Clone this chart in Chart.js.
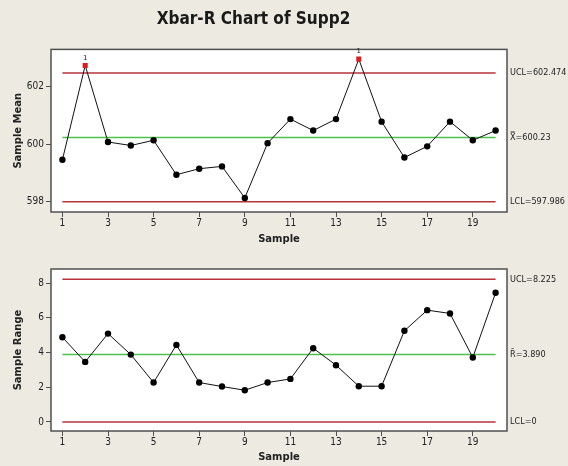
<!DOCTYPE html>
<html>
<head>
<meta charset="utf-8">
<script src="https://cdn.jsdelivr.net/npm/chart.js@4/dist/chart.umd.min.js"></script>
<style>
  html, body { margin: 0; padding: 0; background: #EDEAE2; }
  #wrap { position: relative; width: 568px; height: 466px; overflow: hidden; }
  canvas { position: absolute; left: 0; }
  #meanChart { top: 0; }
  #rangeChart { top: 250px; }
</style>
</head>
<body>
<div id="wrap">
  <canvas id="meanChart" width="568" height="250"></canvas>
  <canvas id="rangeChart" width="568" height="216"></canvas>
</div>
<script>
// data
var samples = [1, 2, 3, 4, 5, 6, 7, 8, 9, 10, 11, 12, 13, 14, 15, 16, 17, 18, 19, 20];
var sampleMeans = [599.45, 602.74, 600.07, 599.95, 600.13, 598.93, 599.14, 599.22, 598.12, 600.03,
                   600.87, 600.47, 600.87, 602.96, 600.78, 599.53, 599.92, 600.78, 600.13, 600.47];
var sampleRanges = [4.88, 3.46, 5.09, 3.88, 2.27, 4.44, 2.27, 2.04, 1.83, 2.27,
                    2.48, 4.25, 3.27, 2.06, 2.06, 5.25, 6.44, 6.25, 3.71, 7.44];
var failedTest1 = [2, 14];   // samples flagged "1" on the Xbar chart

var meanUCL = 602.474, meanCenter = 600.23, meanLCL = 597.986;
var rangeUCL = 8.225, rangeCenter = 3.890, rangeLCL = 0;

var sampleTicks = [1, 3, 5, 7, 9, 11, 13, 15, 17, 19];
var meanTicks = [598, 600, 602];
var rangeTicks = [0, 2, 4, 6, 8];

var meanLabels = ['UCL=602.474', 'X\u033F=600.23', 'LCL=597.986'];
var rangeLabels = ['UCL=8.225', 'R\u0304=3.890', 'LCL=0'];

var RED = '#B8323C', GREEN = '#4CC24C', BOX = '#505050';
var NARROW = '"DejaVu Sans Condensed", "DejaVu Sans", sans-serif';
var tickFont = { family: NARROW, size: 10 };
var titleFont = { family: '"DejaVu Sans", sans-serif', size: 10, weight: 'bold' };

function limitLine(v, color) {
    return {
        data: [{ x: samples[0], y: v }, { x: samples[samples.length - 1], y: v }],
        borderColor: color, borderWidth: 1.5, pointRadius: 0, pointHoverRadius: 0
    };
}

var boxPlugin = {
    id: 'box',
    beforeDatasetsDraw: function(chart) {
        var a = chart.chartArea, c = chart.ctx;
        c.save();
        c.fillStyle = '#ffffff';
        c.fillRect(a.left, a.top, a.right - a.left, a.bottom - a.top);
        c.restore();
    },
    afterDatasetsDraw: function(chart) {
        var a = chart.chartArea, c = chart.ctx;
        var o = chart.options.plugins.box;
        c.save();
        c.strokeStyle = BOX;
        c.lineWidth = 1.5;
        c.strokeRect(a.left, a.top, a.right - a.left, a.bottom - a.top);
        // limit labels on the right
        c.fillStyle = '#222';
        c.font = '9px ' + NARROW;
        c.textBaseline = 'middle';
        c.textAlign = 'left';
        var y = chart.scales.y;
        o.values.forEach(function(v, i) {
            c.fillText(o.labels[i], a.right + 3, y.getPixelForValue(v));
        });
        // test 1 flags
        if (o.flags.length) {
            var meta = chart.getDatasetMeta(0);
            c.font = '7px "DejaVu Sans"';
            c.textAlign = 'center';
            c.textBaseline = 'bottom';
            meta.data.forEach(function(pt, i) {
                if (o.flags.indexOf(samples[i]) >= 0) c.fillText('1', pt.x, pt.y - 4);
            });
        }
        c.restore();
    }
};

function makeChart(id, values, ucl, center, lcl, yTicks, yMin, yMax, yTitle, labels, flags, layout) {
    var points = samples.map(function(s, i) { return { x: s, y: values[i] }; });
    var isFlag = function(ctx) { return flags.indexOf(samples[ctx.dataIndex]) >= 0; };
    return new Chart(document.getElementById(id), {
        type: 'line',
        data: {
            datasets: [
                {
                    data: points,
                    borderColor: '#111', borderWidth: 1,
                    pointStyle: function(ctx) { return isFlag(ctx) ? 'rect' : 'circle'; },
                    pointRadius: function(ctx) { return isFlag(ctx) ? 3.6 : 3.2; },
                    pointBackgroundColor: function(ctx) { return isFlag(ctx) ? '#D81E1E' : '#000'; },
                    pointBorderColor: function(ctx) { return isFlag(ctx) ? '#D81E1E' : '#000'; },
                    pointBorderWidth: 0
                },
                limitLine(center, GREEN),
                limitLine(ucl, RED),
                limitLine(lcl, RED)
            ]
        },
        options: {
            responsive: false,
            animation: false,
            layout: { padding: { top: layout.top, right: 61, bottom: 0, left: 0 } },
            plugins: {
                legend: { display: false },
                tooltip: { enabled: false },
                title: layout.title ? {
                    display: true, text: layout.title, color: '#1a1a1a',
                    font: { family: NARROW, size: 17, weight: 'bold' },
                    padding: { top: 9, bottom: 20 }
                } : { display: false },
                box: { values: [ucl, center, lcl], labels: labels, flags: flags }
            },
            scales: {
                x: {
                    type: 'linear', min: 0.5, max: 20.5,
                    afterBuildTicks: function(ax) { ax.ticks = sampleTicks.map(function(v) { return { value: v }; }); },
                    afterFit: function(ax) { ax.height = layout.xHeight; },
                    ticks: { font: tickFont, color: '#222', padding: 0, maxRotation: 0, autoSkip: false },
                    grid: { drawOnChartArea: false, drawTicks: true, tickLength: 5, color: BOX, lineWidth: 1 },
                    border: { display: false },
                    title: { display: true, text: 'Sample', font: titleFont, color: '#222',
                             padding: { top: 0, bottom: layout.xTitlePad } }
                },
                y: {
                    min: yMin, max: yMax,
                    afterBuildTicks: function(ax) { ax.ticks = yTicks.map(function(v) { return { value: v }; }); },
                    afterFit: function(ax) { ax.width = 51; },
                    ticks: { font: tickFont, color: '#222', padding: 2, autoSkip: false },
                    grid: { drawOnChartArea: false, drawTicks: true, tickLength: 5, color: BOX, lineWidth: 1 },
                    border: { display: false },
                    title: { display: true, text: yTitle, font: titleFont, color: '#222',
                             padding: { top: 12, bottom: 0 } }
                }
            }
        },
        plugins: [boxPlugin]
    });
}

makeChart('meanChart', sampleMeans, meanUCL, meanCenter, meanLCL, meanTicks, 597.63, 603.3,
          'Sample Mean', meanLabels, failedTest1,
          { top: 0, title: 'Xbar-R Chart of Supp2', xHeight: 38, xTitlePad: 5 });
makeChart('rangeChart', sampleRanges, rangeUCL, rangeCenter, rangeLCL, rangeTicks, -0.52, 8.81,
          'Sample Range', rangeLabels, [],
          { top: 19, title: null, xHeight: 35, xTitlePad: 3 });
</script>
</body>
</html>
